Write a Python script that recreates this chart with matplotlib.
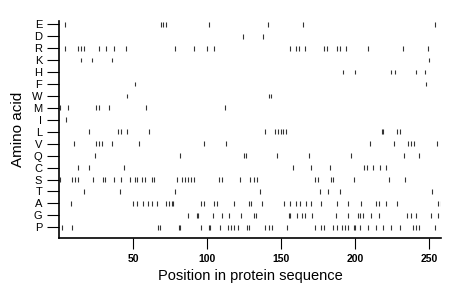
"""Barcode plot: position of each amino acid along the protein sequence."""

import matplotlib
matplotlib.use("Agg")
import matplotlib.pyplot as plt

# ─── data: positions of each residue ────────────────────────────────────────

ROW_LABELS = ["E", "D", "R", "K", "H", "F", "W", "M", "I",
              "L", "V", "Q", "C", "S", "T", "A", "G", "P"]

POS_E = [4, 69, 70, 72, 101, 141, 165, 254]
POS_D = [124, 138]
POS_R = [4, 13, 15, 17, 27, 32, 37, 45, 78, 91, 100, 105, 156, 160, 162, 166,
         179, 181, 188, 190, 194, 209, 232, 249]
POS_K = [15, 22, 36, 250]
POS_H = [192, 200, 224, 227, 241, 247]
POS_F = [51, 248]
POS_W = [46, 142, 143]
POS_M = [1, 6, 25, 27, 34, 59, 112]
POS_I = [5]
POS_L = [20, 40, 42, 46, 61, 139, 146, 148, 150, 151, 153, 218, 219, 228, 230]
POS_V = [10, 25, 27, 29, 36, 54, 98, 113, 210, 226, 236, 238, 240, 255]
POS_Q = [24, 82, 125, 126, 147, 169, 197, 233, 243]
POS_C = [13, 20, 44, 158, 170, 183, 206, 208, 212, 217, 221]
POS_S = [1, 9, 11, 13, 23, 30, 31, 37, 42, 48, 51, 53, 56, 58, 63, 64, 80, 83,
         85, 87, 89, 91, 108, 110, 122, 129, 132, 134, 173, 175, 184, 185, 199,
         223, 234]
POS_T = [17, 41, 78, 136, 176, 182, 190, 252]
POS_A = [8, 50, 53, 57, 60, 63, 66, 72, 74, 76, 77, 96, 98, 105, 107, 118, 128,
         130, 137, 152, 156, 160, 163, 167, 170, 177, 188, 195, 204, 214, 216,
         221, 228, 256, 258]
POS_G = [87, 93, 94, 104, 110, 115, 123, 132, 133, 155, 156, 161, 164, 166,
         171, 187, 195, 202, 203, 205, 211, 216, 235, 238, 241, 251, 256]
POS_P = [2, 9, 67, 68, 81, 82, 96, 101, 102, 109, 114, 116, 118, 121, 127, 128,
         139, 142, 144, 154, 173, 177, 179, 185, 188, 191, 193, 195, 199, 200,
         203, 209, 214, 219, 224, 230, 239, 241, 243, 254]

X_TICKS = [50, 100, 150, 200, 250]
SEQ_LEN = 258

# ─── figure parameters ───────────────────────────────────────────────────────

FONT = ["Liberation Sans", "DejaVu Sans"]
TICK_HALF = 0.2   # half height of a residue mark, in rows


def main() -> None:
    plt.rcParams["font.family"] = FONT

    positions = [POS_E, POS_D, POS_R, POS_K, POS_H, POS_F, POS_W, POS_M, POS_I,
                 POS_L, POS_V, POS_Q, POS_C, POS_S, POS_T, POS_A, POS_G, POS_P]

    fig = plt.figure(figsize=(4.6, 2.99), dpi=100)
    ax = fig.add_axes([0.1283, 0.203, 0.8304, 0.727])

    for row, pos in enumerate(positions):
        ax.vlines(pos, row - TICK_HALF, row + TICK_HALF, color="#333333", lw=0.8)

    n = len(ROW_LABELS)
    ax.set_ylim(n - 1 + 0.92, -0.28)
    ax.set_xlim(0, SEQ_LEN)

    ax.set_yticks(range(n))
    ax.set_yticklabels(ROW_LABELS, fontsize=8)
    ax.set_xticks(X_TICKS)
    ax.set_xticklabels([str(t) for t in X_TICKS], fontsize=7.5, fontweight="bold")
    ax.tick_params(axis="y", length=9, width=0.8, pad=3)
    ax.tick_params(axis="x", length=8, width=0.8, pad=3)

    for side in ("top", "right"):
        ax.spines[side].set_visible(False)
    for side in ("left", "bottom"):
        ax.spines[side].set_linewidth(1.2)

    ax.set_xlabel("Position in protein sequence", fontsize=10.5, labelpad=4)
    ax.set_ylabel("Amino acid", fontsize=11, labelpad=5)

    fig.savefig("out.png", dpi=100)
    plt.close(fig)


if __name__ == "__main__":
    main()
